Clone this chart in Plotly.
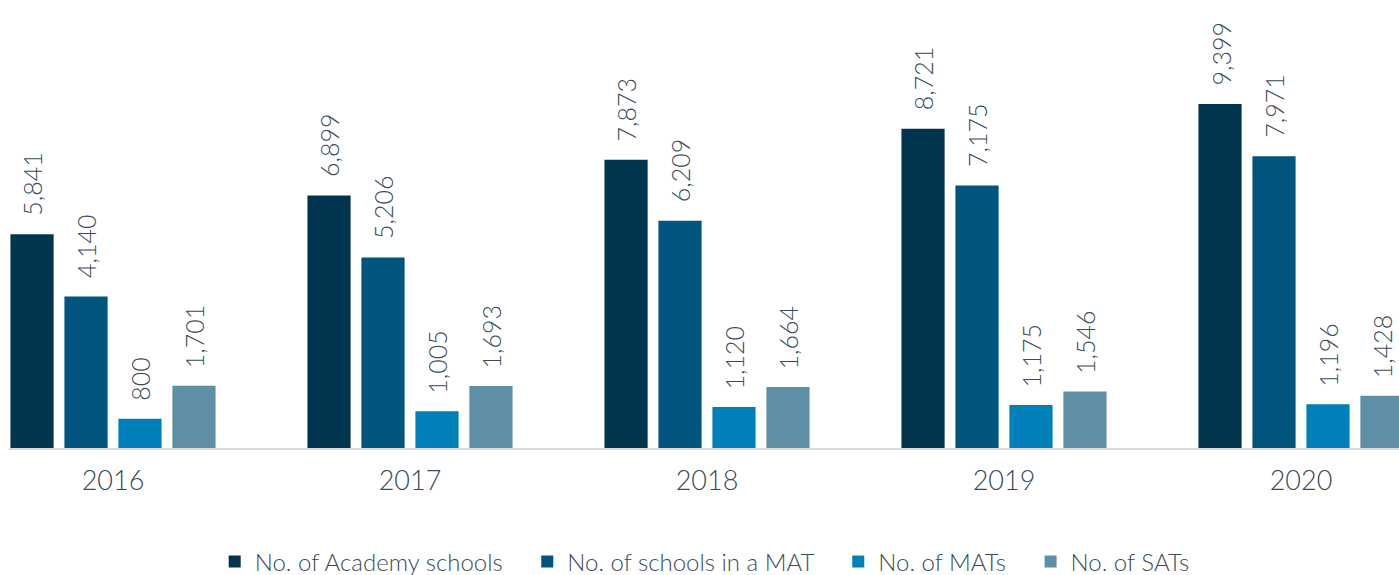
import plotly.graph_objects as go

years = ["2016", "2017", "2018", "2019", "2020"]
academy = [5841, 6899, 7873, 8721, 9399]
mat_schools = [4140, 5206, 6209, 7175, 7971]
mats = [800, 1005, 1120, 1175, 1196]
sats = [1701, 1693, 1664, 1546, 1428]

series_names = ["No. of Academy schools", "No. of schools in a MAT", "No. of MATs", "No. of SATs"]
series_values = [academy, mat_schools, mats, sats]
colors = ["#01344f", "#02557f", "#0080b9", "#5e8fa4"]

FONT = "Lato"
TEXT_COLOR = "#3b4c58"
PAD = "\u00a0" * 3

idx = list(range(len(years)))
bargap = 0.273
n = len(series_names)
slot = (1 - bargap) / n

fig = go.Figure()
annotations = []
for i, (name, vals, col) in enumerate(zip(series_names, series_values, colors)):
    fig.add_trace(go.Bar(
        x=idx, y=vals, name=name + (PAD if i < n - 1 else ""),
        marker=dict(color=col, line=dict(width=0)),
        hoverinfo="skip",
    ))
    for k, v in enumerate(vals):
        annotations.append(dict(
            x=k + (i - (n - 1) / 2) * slot, y=v, xref="x", yref="y",
            text=f"{v:,}", textangle=-90, showarrow=False,
            xanchor="center", yanchor="bottom", yshift=16,
            font=dict(family=FONT, size=25, color=TEXT_COLOR, weight=300),
        ))

W, H = 1399, 575
left, bottom = 9, 127
plot_h = H - bottom
px_per_cat = 297
c0 = 113
x_lo = -(c0 - left) / px_per_cat
x_hi = (W - c0) / px_per_cat
y_max = 9399 * plot_h / 344

fig.update_layout(
    width=W, height=H,
    margin=dict(l=left, r=0, t=0, b=bottom),
    paper_bgcolor="white", plot_bgcolor="white",
    barmode="group", bargap=bargap, bargroupgap=0.2,
    annotations=annotations,
    xaxis=dict(
        range=[x_lo, x_hi], tickmode="array", tickvals=idx, ticktext=years,
        showgrid=False, zeroline=False, showline=True, linecolor="#d9d9d9", linewidth=2,
        ticks="", ticklabelstandoff=8,
        tickfont=dict(family=FONT, size=27, color=TEXT_COLOR, weight=300),
    ),
    yaxis=dict(range=[0, y_max], visible=False, showgrid=False, zeroline=False),
    legend=dict(
        orientation="h", x=0.5005, xanchor="center", y=0.023, yanchor="middle",
        xref="paper", yref="container",
        font=dict(family=FONT, size=24, color=TEXT_COLOR, weight=300),
        itemwidth=30, tracegroupgap=0,
    ),
    showlegend=True,
)

fig.write_html(
    "out.html",
    config={"displayModeBar": False},
    post_script="document.body.style.margin='0';document.body.style.overflow='hidden';",
)
